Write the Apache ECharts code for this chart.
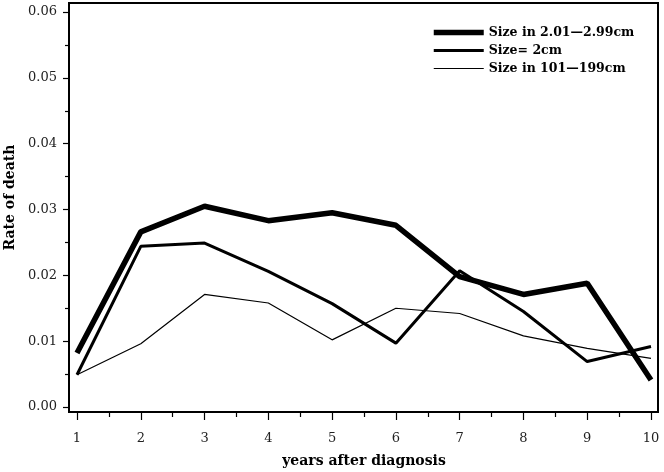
<!DOCTYPE html>
<html>
<head>
<meta charset="utf-8">
<script src="https://cdn.jsdelivr.net/npm/echarts@6/dist/echarts.min.js"></script>
<style>html,body{margin:0;padding:0;background:#fff}#c{width:664px;height:472px}</style>
</head>
<body>
<div id="c"></div>
<script>
var years = [1, 2, 3, 4, 5, 6, 7, 8, 9, 10];
var seriesNames = ['Size in 2.01\u20142.99cm', 'Size= 2cm', 'Size in 101\u2014199cm'];
var size2to3 = [0.0082, 0.0266, 0.0305, 0.0283, 0.0295, 0.0276, 0.0198, 0.0171, 0.0188, 0.0041];
var size2 = [0.0049, 0.0244, 0.0249, 0.0206, 0.0157, 0.0097, 0.0207, 0.0145, 0.0069, 0.0092];
var size1to2 = [0.0049, 0.0096, 0.0171, 0.0158, 0.0102, 0.0150, 0.0142, 0.0108, 0.0089, 0.0074];
var yTicks = [0.00, 0.01, 0.02, 0.03, 0.04, 0.05, 0.06];

function pairs(vals) { return years.map(function (y, i) { return [y, vals[i]]; }); }

var chart = echarts.init(document.getElementById('c'), null, {renderer: 'canvas'});
var serif = 'DejaVu Serif';
chart.setOption({
  animation: false,
  backgroundColor: '#fff',
  grid: {left: 77, right: 13, top: 12, bottom: 65, containLabel: false, outerBoundsMode: 'none'},
  graphic: [{
    type: 'rect', shape: {x: 69, y: 3, width: 589, height: 409},
    style: {fill: 'none', stroke: '#000', lineWidth: 2}, z: 10
  }],
  legend: {
    orient: 'vertical', left: 431, top: 26, padding: 0,
    itemWidth: 50, itemHeight: 12, itemGap: 5,
    data: seriesNames,
    lineStyle: {width: 'inherit'},
    itemStyle: {opacity: 0},
    textStyle: {fontFamily: serif, fontWeight: 'bold', fontSize: 12.5, color: '#000'}
  },
  xAxis: {
    type: 'value', min: 1, max: 10, interval: 1, offset: 5,
    name: 'years after diagnosis', nameLocation: 'middle', nameGap: 42,
    nameTextStyle: {fontFamily: serif, fontWeight: 'bold', fontSize: 14, color: '#000'},
    axisLine: {show: false, onZero: false},
    axisTick: {show: true, length: 8, lineStyle: {color: '#000', width: 1.2}},
    minorTick: {show: true, splitNumber: 2, length: 5, lineStyle: {color: '#000', width: 1.2}},
    splitLine: {show: false},
    axisLabel: {margin: 20, fontFamily: serif, fontSize: 13, color: '#222'}
  },
  yAxis: {
    type: 'value', min: 0, max: 0.06, interval: 0.01, offset: 8,
    name: 'Rate of death', nameLocation: 'middle', nameGap: 47,
    nameTextStyle: {fontFamily: serif, fontWeight: 'bold', fontSize: 14, color: '#000', padding: [0, 0, 0, 24]},
    axisLine: {show: false, onZero: false},
    axisTick: {show: true, length: 6, lineStyle: {color: '#000', width: 1.2}},
    minorTick: {show: true, splitNumber: 2, length: 4, lineStyle: {color: '#000', width: 1.2}},
    splitLine: {show: false},
    axisLabel: {margin: 12, fontFamily: serif, fontSize: 13, color: '#222',
      formatter: function (v) { return v.toFixed(2); }}
  },
  series: [
    {name: seriesNames[0], type: 'line', data: pairs(size2to3), symbol: 'none',
     lineStyle: {color: '#000', width: 5.5}, itemStyle: {color: '#000'}},
    {name: seriesNames[1], type: 'line', data: pairs(size2), symbol: 'none',
     lineStyle: {color: '#000', width: 3}, itemStyle: {color: '#000'}},
    {name: seriesNames[2], type: 'line', data: pairs(size1to2), symbol: 'none',
     lineStyle: {color: '#000', width: 1.2}, itemStyle: {color: '#000'}}
  ]
});
</script>
</body>
</html>
